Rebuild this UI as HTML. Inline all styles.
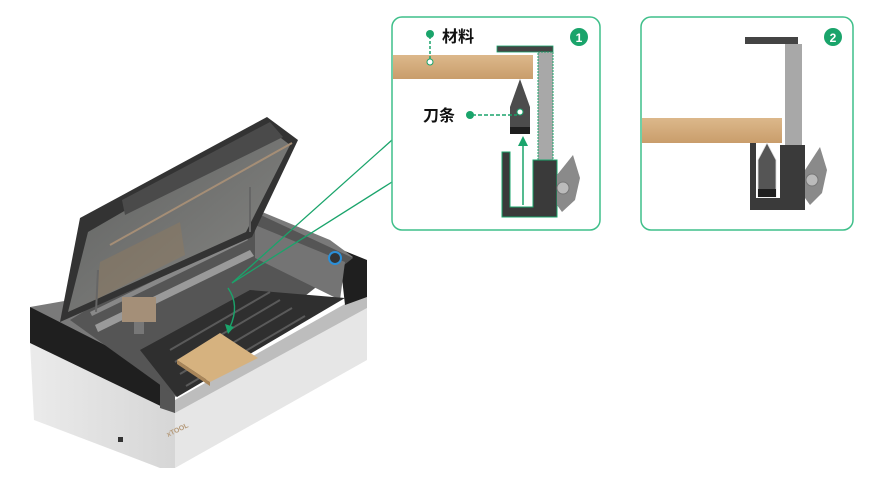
<!DOCTYPE html>
<html><head><meta charset="utf-8"><style>
html,body{margin:0;padding:0;background:#fff;width:877px;height:487px;overflow:hidden}
svg{display:block}
text{font-family:"Liberation Sans","Noto Sans CJK SC",sans-serif;font-weight:bold}
</style></head><body>
<svg width="877" height="487" viewBox="0 0 877 487" xmlns="http://www.w3.org/2000/svg">
<defs>
<linearGradient id="wood" x1="0" y1="0" x2="0" y2="1"><stop offset="0" stop-color="#dcb88b"/><stop offset="1" stop-color="#c99d6b"/></linearGradient>
<linearGradient id="silv" x1="0" y1="0" x2="1" y2="0"><stop offset="0" stop-color="#ebebeb"/><stop offset="1" stop-color="#d6d6d6"/></linearGradient>
<linearGradient id="glass" x1="0" y1="0" x2="1" y2="1"><stop offset="0" stop-color="#6d6f6e"/><stop offset="1" stop-color="#a4a4a0"/></linearGradient>
</defs>
<!-- machine body -->
<polygon points="30,343 175,413 175,468 160,468 34,420" fill="url(#silv)"/>
<polygon points="175,413 367,308 367,360 175,468" fill="#e6e6e6"/>
<polygon points="30,307 70,318 175,380 175,413 30,343" fill="#1f1f1f"/>
<polygon points="160,373 175,380 175,413 160,408" fill="#555"/>
<polygon points="175,400 352,300 367,297 367,308 175,413" fill="#bdbdbd"/>
<polygon points="330,245 367,260 367,297 345,305 340,260" fill="#1f1f1f"/>
<!-- interior -->
<polygon points="30,307 70,300 250,207 330,240 353,257 175,397 160,373" fill="#7a7a7a"/>
<polygon points="70,320 250,210 353,258 177,397" fill="#555"/>
<polygon points="255,225 345,262 340,300 255,258" fill="#747474"/>
<polygon points="140,350 250,290 345,298 177,397" fill="#2f2f2f"/>
<g stroke="#5a5a5a" stroke-width="2">
<line x1="170" y1="350" x2="270" y2="292"/><line x1="175" y1="362" x2="280" y2="300"/><line x1="180" y1="374" x2="292" y2="308"/><line x1="186" y1="386" x2="305" y2="316"/>
</g>
<polygon points="177,360 220,333 258,358 210,382" fill="#d6b27f"/>
<polygon points="177,360 210,382 210,386 177,364" fill="#a9865a"/>
<circle cx="335" cy="258" r="6" fill="#333" stroke="#2b8fd8" stroke-width="2"/>
<!-- gantry -->
<polygon points="95,325 250,250 254,256 98,332" fill="#9a9a9a"/>
<polygon points="90,312 245,236 248,240 92,316" fill="#888"/>
<rect x="122" y="297" width="34" height="25" fill="#a48f78"/>
<rect x="134" y="322" width="10" height="12" fill="#777"/>
<!-- lid -->
<polygon points="80,218 267,117 298,140 252,237 60,322" fill="#333"/>
<polygon points="88,232 268,128 290,145 246,232 68,312" fill="url(#glass)" opacity="0.75"/>
<polygon points="122,200 270,122 283,137 125,215" fill="#4a4a4a"/>
<line x1="110" y1="245" x2="292" y2="143" stroke="#a58e76" stroke-width="2"/>
<polygon points="100,262 180,222 185,255 95,300" fill="#8d7a60" opacity="0.5"/>
<line x1="98" y1="270" x2="96" y2="312" stroke="#666" stroke-width="2"/>
<line x1="250" y1="187" x2="250" y2="232" stroke="#666" stroke-width="2"/>
<rect x="118" y="437" width="5" height="5" fill="#333"/>
<text x="168" y="437" font-size="7" fill="#b59a7a" transform="rotate(-26 168 437)">xTOOL</text>
<!-- green connectors -->
<line x1="392" y1="140" x2="232" y2="283" stroke="#1aa46b" stroke-width="1.3"/>
<line x1="392" y1="182" x2="232" y2="283" stroke="#1aa46b" stroke-width="1.3"/>
<path d="M228,288 Q240,305 230,327" fill="none" stroke="#1aa46b" stroke-width="1.4"/>
<polygon points="225,324 234,327 228,334" fill="#1aa46b"/>
<!-- panel 1 -->
<rect x="392" y="17" width="208" height="213" rx="10" fill="#fff" stroke="#3fbf8a" stroke-width="1.5"/>
<rect x="393" y="55" width="140" height="24" fill="url(#wood)"/>
<rect x="497" y="46" width="56" height="6" fill="#444" stroke="#1aa46b" stroke-width="0.8"/>
<rect x="538" y="52" width="15" height="108" fill="#a8a8a8" stroke="#1aa46b" stroke-width="1" stroke-dasharray="2 1"/>
<path d="M502,152 h8 v55 h23 v-47 h24 v57 h-55 z" fill="#3a3a3a" stroke="#1aa46b" stroke-width="1"/>
<polygon points="557,175 573,155 580,178 575,200 562,212 557,205" fill="#8a8a8a"/>
<circle cx="563" cy="188" r="6" fill="#bbb" stroke="#777"/>
<polygon points="520,79 530,107 530,134 510,134 510,107" fill="#4c4c4c"/>
<rect x="510" y="127" width="20" height="7" fill="#1e1e1e"/>
<circle cx="520" cy="112" r="3" fill="#fff" stroke="#1aa46b"/>
<line x1="523" y1="205" x2="523" y2="142" stroke="#1aa46b" stroke-width="1.5"/>
<polygon points="518,146 528,146 523,136" fill="#1aa46b"/>
<circle cx="430" cy="34" r="4" fill="#1aa46b"/>
<line x1="430" y1="36" x2="430" y2="60" stroke="#1aa46b" stroke-width="1.5" stroke-dasharray="3 2"/>
<circle cx="430" cy="62" r="3" fill="#fff" stroke="#1aa46b"/>
<text x="442" y="42" font-size="16" fill="#111">材料</text>
<circle cx="470" cy="115" r="4" fill="#1aa46b"/>
<line x1="472" y1="115" x2="517" y2="115" stroke="#1aa46b" stroke-width="1.5" stroke-dasharray="4 2"/>
<text x="423" y="121" font-size="16" fill="#111">刀条</text>
<circle cx="579" cy="37" r="9" fill="#1aa46b"/>
<text x="579" y="42" font-size="12" fill="#fff" text-anchor="middle">1</text>
<!-- panel 2 -->
<rect x="641" y="17" width="212" height="213" rx="10" fill="#fff" stroke="#3fbf8a" stroke-width="1.5"/>
<rect x="745" y="37" width="53" height="7" fill="#444"/>
<rect x="785" y="44" width="17" height="106" fill="#a8a8a8"/>
<rect x="642" y="118" width="140" height="25" fill="url(#wood)"/>
<path d="M750,143 h6 v55 h24 v-53 h25 v65 h-55 z" fill="#3a3a3a"/>
<polygon points="767,143 776,160 776,197 758,197 758,160" fill="#555" stroke="#ddd" stroke-width="0.8"/>
<rect x="758" y="189" width="18" height="8" fill="#1e1e1e"/>
<polygon points="805,170 820,147 827,170 822,193 810,205 805,198" fill="#8a8a8a"/>
<circle cx="812" cy="180" r="6" fill="#bbb" stroke="#777"/>
<circle cx="833" cy="37" r="9" fill="#1aa46b"/>
<text x="833" y="42" font-size="12" fill="#fff" text-anchor="middle">2</text>
</svg>
</body></html>
